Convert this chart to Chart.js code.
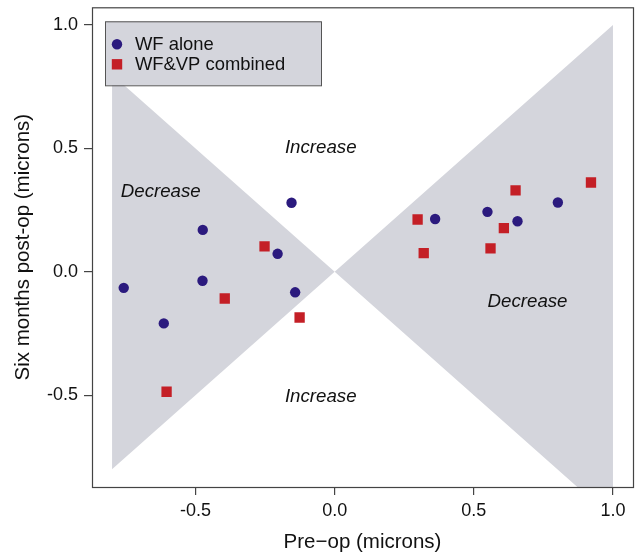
<!DOCTYPE html>
<html>
<head>
<meta charset="utf-8">
<script src="https://cdn.jsdelivr.net/npm/chart.js@4.4.1/dist/chart.umd.min.js"></script>
<style>
  html, body { margin: 0; padding: 0; background: #fff; }
  #wrap { width: 643px; height: 555px; position: relative; }
</style>
</head>
<body>
<div id="wrap"><canvas id="grafico"></canvas></div>
<script>
// valores (pre-op x, seis meses y)
var wfX = [-0.155, -0.474, -0.205, -0.475, -0.758, -0.142, -0.614, 0.361, 0.549, 0.657, 0.802];
var wfY = [0.280, 0.170, 0.073, -0.036, -0.065, -0.083, -0.209, 0.214, 0.243, 0.205, 0.281];
var vpX = [-0.252, -0.395, -0.126, -0.604, 0.298, 0.320, 0.560, 0.608, 0.650, 0.921];
var vpY = [0.103, -0.108, -0.185, -0.486, 0.212, 0.076, 0.095, 0.177, 0.330, 0.362];

// regioes cinzas (triangulos)
var triEsqX = [-0.8, 0, -0.8];
var triEsqY = [0.8, 0, -0.8];
var triDirX = [0, 1, 1];
var triDirY = [0, 1, -1];

var ticksX = [-0.5, 0, 0.5, 1.0];
var ticksY = [-0.5, 0, 0.5, 1.0];

var rotulos = ['Increase', 'Increase', 'Decrease', 'Decrease'];
var rotulosX = [-0.05, -0.05, -0.625, 0.693];
var rotulosY = [0.502, -0.506, 0.325, -0.123];

var legendaNomes = ['WF alone', 'WF&VP combined'];

var corAzul = '#2b1a7e';
var corVermelho = '#c41f26';
var corCinza = '#d4d5dc';
var corEixo = '#444444';
var fonte = '"Liberation Sans", Arial, sans-serif';

function juntar(xs, ys) {
  var pts = [];
  for (let i = 0; i < xs.length; i++) pts.push({ x: xs[i], y: ys[i] });
  return pts;
}

const pluginExtras = {
  id: 'extras',
  afterDatasetsDraw(chart) {
    const ctx = chart.ctx;
    const a = chart.chartArea;
    const sx = chart.scales.x, sy = chart.scales.y;

    // textos Increase / Decrease
    ctx.save();
    ctx.fillStyle = '#111';
    ctx.font = 'italic 18.7px ' + fonte;
    ctx.textAlign = 'center';
    ctx.textBaseline = 'middle';
    for (let i = 0; i < rotulos.length; i++) {
      ctx.fillText(rotulos[i], sx.getPixelForValue(rotulosX[i]), sy.getPixelForValue(rotulosY[i]));
    }
    ctx.restore();

    // legenda
    ctx.save();
    var lx = a.left + 13, ly = a.top + 14, lw = 216, lh = 64;
    ctx.fillStyle = corCinza;
    ctx.fillRect(lx, ly, lw, lh);
    ctx.strokeStyle = '#555';
    ctx.lineWidth = 1;
    ctx.strokeRect(lx + 0.5, ly + 0.5, lw, lh);
    ctx.fillStyle = corAzul;
    ctx.beginPath();
    ctx.arc(lx + 12, ly + 23, 5.2, 0, Math.PI * 2);
    ctx.fill();
    ctx.fillStyle = corVermelho;
    ctx.fillRect(lx + 12 - 5.2, ly + 43 - 5.2, 10.4, 10.4);
    ctx.fillStyle = '#111';
    ctx.font = '18.4px ' + fonte;
    ctx.textAlign = 'left';
    ctx.textBaseline = 'middle';
    ctx.fillText(legendaNomes[0], lx + 30, ly + 24);
    ctx.fillText(legendaNomes[1], lx + 30, ly + 44);
    ctx.restore();

    // moldura
    ctx.save();
    ctx.strokeStyle = corEixo;
    ctx.lineWidth = 1.2;
    ctx.strokeRect(a.left + 0.5, a.top + 0.5, a.right - a.left, a.bottom - a.top);
    ctx.restore();
  }
};

new Chart(document.getElementById('grafico'), {
  type: 'scatter',
  data: {
    datasets: [
      {
        label: legendaNomes[0],
        data: juntar(wfX, wfY),
        pointStyle: 'circle',
        pointRadius: 5.2,
        pointHoverRadius: 5.2,
        backgroundColor: corAzul,
        borderWidth: 0,
        order: 0
      },
      {
        label: legendaNomes[1],
        data: juntar(vpX, vpY),
        pointStyle: 'rect',
        pointRadius: 7.3,
        pointHoverRadius: 7.3,
        backgroundColor: corVermelho,
        borderWidth: 0,
        order: 0
      },
      {
        label: 'esq',
        data: juntar(triEsqX, triEsqY),
        showLine: true,
        fill: 'shape',
        backgroundColor: corCinza,
        borderColor: corCinza,
        borderWidth: 0,
        pointRadius: 0,
        tension: 0,
        order: 2
      },
      {
        label: 'dir',
        data: juntar(triDirX, triDirY),
        showLine: true,
        fill: 'shape',
        backgroundColor: corCinza,
        borderColor: corCinza,
        borderWidth: 0,
        pointRadius: 0,
        tension: 0,
        order: 2
      }
    ]
  },
  options: {
    responsive: true,
    maintainAspectRatio: false,
    animation: false,
    events: [],
    layout: { padding: { top: 5, right: 10, left: 0, bottom: 0 } },
    plugins: {
      legend: { display: false },
      tooltip: { enabled: false }
    },
    scales: {
      x: {
        type: 'linear',
        min: -0.872,
        max: 1.072,
        afterBuildTicks: function (scale) {
          scale.ticks = ticksX.map(v => ({ value: v }));
        },
        afterFit: function (scale) {
          scale.height = 68;
          scale.paddingLeft = 0;
          scale.paddingRight = 0;
        },
        grid: { drawOnChartArea: false, drawTicks: true, tickLength: 8, color: corEixo, lineWidth: 1.2 },
        border: { display: false },
        ticks: {
          color: '#111',
          padding: 5,
          maxRotation: 0,
          font: { family: fonte, size: 18 },
          callback: function (v) { return v.toFixed(1); }
        },
        title: {
          display: true,
          text: 'Pre\u2212op (microns)',
          color: '#111',
          padding: { top: 0, bottom: 0 },
          font: { family: fonte, size: 20.5 }
        }
      },
      y: {
        type: 'linear',
        min: -0.872,
        max: 1.072,
        afterBuildTicks: function (scale) {
          scale.ticks = ticksY.map(v => ({ value: v }));
        },
        afterFit: function (scale) {
          scale.width = 92;
          scale.paddingTop = 0;
          scale.paddingBottom = 0;
        },
        grid: { drawOnChartArea: false, drawTicks: true, tickLength: 8, color: corEixo, lineWidth: 1.2 },
        border: { display: false },
        ticks: {
          color: '#111',
          padding: 6,
          font: { family: fonte, size: 18 },
          callback: function (v) { return v.toFixed(1); }
        },
        title: {
          display: true,
          text: 'Six months post-op (microns)',
          color: '#111',
          padding: { top: 11, bottom: 0 },
          font: { family: fonte, size: 20.5 }
        }
      }
    }
  },
  plugins: [pluginExtras]
});
</script>
</body>
</html>
